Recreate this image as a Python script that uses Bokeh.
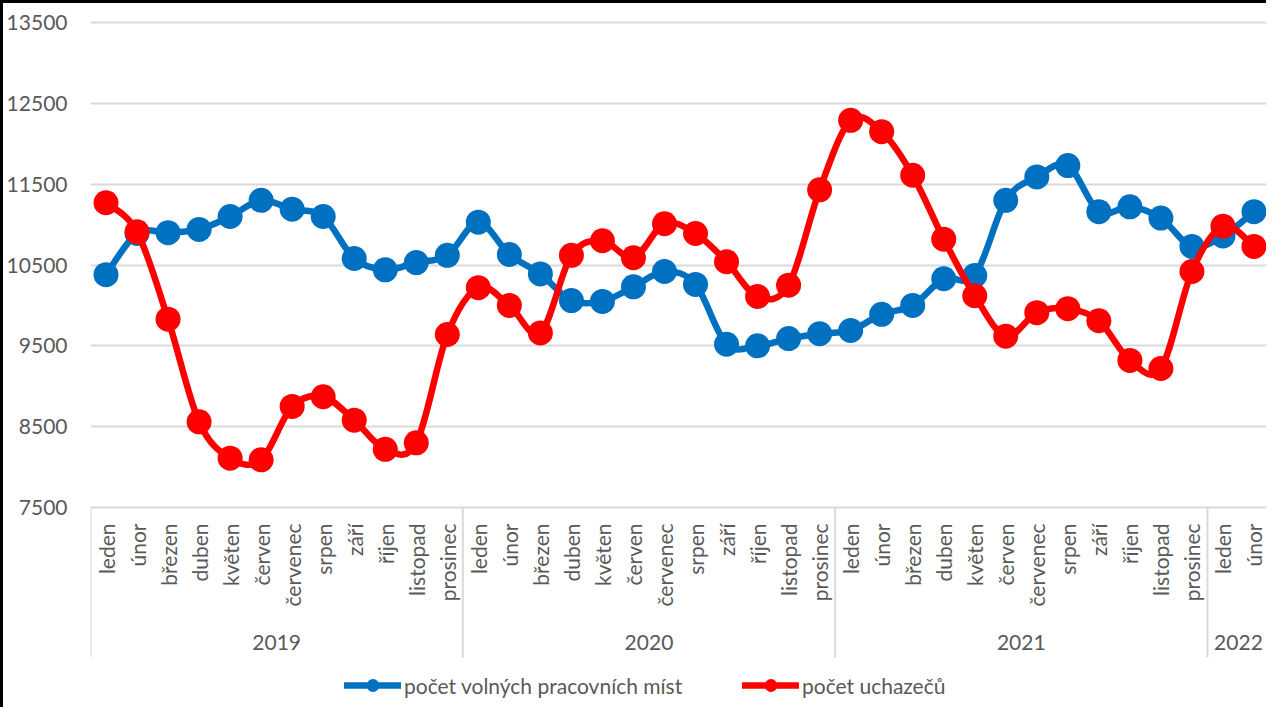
import numpy as np
from bokeh.plotting import figure
from bokeh.models import FixedTicker, Range1d, Legend, LegendItem
from bokeh.core.properties import value
from bokeh.embed import file_html
from bokeh.resources import INLINE

# ---------------- data ----------------
year_labels = ["2019", "2020", "2021", "2022"]
year_counts = [12, 12, 12, 2]
month_names = ["leden", "únor", "březen", "duben", "květen", "červen",
               "červenec", "srpen", "září", "říjen", "listopad", "prosinec"]
months = month_names * 3 + month_names[:2]

volna_mista = [10380, 10890, 10900, 10940, 11100, 11300, 11190, 11100, 10580, 10440, 10530, 10620,
               11030, 10630, 10390, 10060, 10050, 10230, 10420, 10260, 9520, 9500, 9590, 9650,
               9690, 9890, 10000, 10330, 10370, 11300, 11590, 11730, 11160, 11220, 11080, 10730,
               10860, 11160]
uchazeci = [11270, 10910, 9830, 8560, 8110, 8090, 8750, 8870, 8580, 8220, 8300, 9640,
            10220, 10000, 9660, 10620, 10800, 10590, 11010, 10890, 10540, 10110, 10250, 11430,
            12290, 12150, 11610, 10820, 10120, 9620, 9910, 9960, 9810, 9320, 9220, 10420,
            10980, 10730]
series_names = ["počet volných pracovních míst", "počet uchazečů"]
series_colors = ["#0070C0", "#FF0000"]
y_ticks = [7500, 8500, 9500, 10500, 11500, 12500, 13500]

# ---------------- layout ----------------
W, H = 1266, 707
BL, BT = 85, 5
GRID_TOP_PX, GRID_BOT_PX = 19, 504      # canvas px of 13500 / 7500 lines
ppu = (GRID_BOT_PX - GRID_TOP_PX) / (y_ticks[-1] - y_ticks[0])
y_end = y_ticks[-1] + (GRID_TOP_PX - BT) / ppu
y_start = y_ticks[0] - (H - GRID_BOT_PX) / ppu

n = len(months)
FONT = "Lato"
FS = "21px"
TXT = "#595959"
GRID = "#D9D9D9"

p = figure(width=W, height=H, output_backend="svg", toolbar_location=None,
           x_range=Range1d(-0.5, n - 0.5), y_range=Range1d(y_start, y_end),
           x_axis_location=None, y_axis_location="left",
           min_border_left=BL, min_border_top=BT, min_border_right=0, min_border_bottom=0)
p.styles = {"border-left": "3px solid black", "border-top": "3px solid black"}
p.outline_line_color = None
p.background_fill_color = "white"
p.border_fill_color = "white"

ticker = FixedTicker(ticks=y_ticks)
p.yaxis.ticker = ticker
p.ygrid.ticker = ticker
p.ygrid.grid_line_color = GRID
p.ygrid.grid_line_width = 2
p.xgrid.grid_line_color = None
p.yaxis.axis_line_color = None
p.yaxis.major_tick_line_color = None
p.yaxis.minor_tick_line_color = None
p.yaxis.major_tick_out = 0
p.yaxis.major_tick_in = 0
p.yaxis.major_label_standoff = 23
p.yaxis.major_label_text_font = FONT
p.yaxis.major_label_text_font_size = FS
p.yaxis.major_label_text_color = TXT

x = np.arange(n, dtype=float)

# category axis: separators, month labels, year labels
bounds = [-0.5] + list(np.cumsum(year_counts) - 0.5)
sep_len_px = 150
p.segment(x0=bounds, y0=[y_ticks[0]] * len(bounds), x1=bounds,
          y1=[y_ticks[0] - sep_len_px / ppu] * len(bounds),
          line_color=GRID, line_width=2)
p.text(x=x, y=[y_ticks[0]] * n, text=months, angle=np.pi / 2,
       text_align="right", text_baseline="middle", y_offset=16,
       text_font=value(FONT), text_font_size=FS, text_color=TXT)
starts = np.concatenate([[0], np.cumsum(year_counts)[:-1]])
year_x = [s + (c - 1) / 2 for s, c in zip(starts, year_counts)]
p.text(x=year_x, y=[y_ticks[0]] * len(year_x), text=year_labels,
       text_align="center", text_baseline="middle", y_offset=135,
       text_font=value(FONT), text_font_size=FS, text_color=TXT)


def smooth_controls(xs, ys):
    xs = np.asarray(xs, float)
    ys = np.asarray(ys, float)
    xp = np.concatenate([[xs[0]], xs, [xs[-1]]])
    yp = np.concatenate([[ys[0]], ys, [ys[-1]]])
    i = np.arange(1, len(xs))
    cx0 = xp[i] + (xp[i + 1] - xp[i - 1]) / 6
    cy0 = yp[i] + (yp[i + 1] - yp[i - 1]) / 6
    cx1 = xp[i + 1] - (xp[i + 2] - xp[i]) / 6
    cy1 = yp[i + 1] - (yp[i + 2] - yp[i]) / 6
    return xs[:-1], ys[:-1], xs[1:], ys[1:], cx0, cy0, cx1, cy1


renderers = []
for vals, col in zip([volna_mista, uchazeci], series_colors):
    x0, y0, x1, y1, cx0, cy0, cx1, cy1 = smooth_controls(x, vals)
    bz = p.bezier(x0=x0, y0=y0, x1=x1, y1=y1, cx0=cx0, cy0=cy0, cx1=cx1, cy1=cy1,
                  line_color=col, line_width=6.5, line_cap="round")
    sc = p.scatter(x=x, y=vals, size=25, fill_color=col, line_color=col, line_width=0)
    renderers.append((bz, sc))

legend_x = [254, 652]
for (bz, sc), name, lx in zip(renderers, series_names, legend_x):
    leg = Legend(items=[LegendItem(label=name, renderers=[bz, sc])],
                 location=(lx, 9), orientation="horizontal",
                 glyph_width=57, glyph_height=32, label_standoff=3,
                 padding=0, margin=0, border_line_color=None,
                 background_fill_alpha=0,
                 label_text_font=FONT, label_text_font_size=FS,
                 label_text_color=TXT)
    p.add_layout(leg)

open("out.html", "w").write(file_html(p, INLINE))
